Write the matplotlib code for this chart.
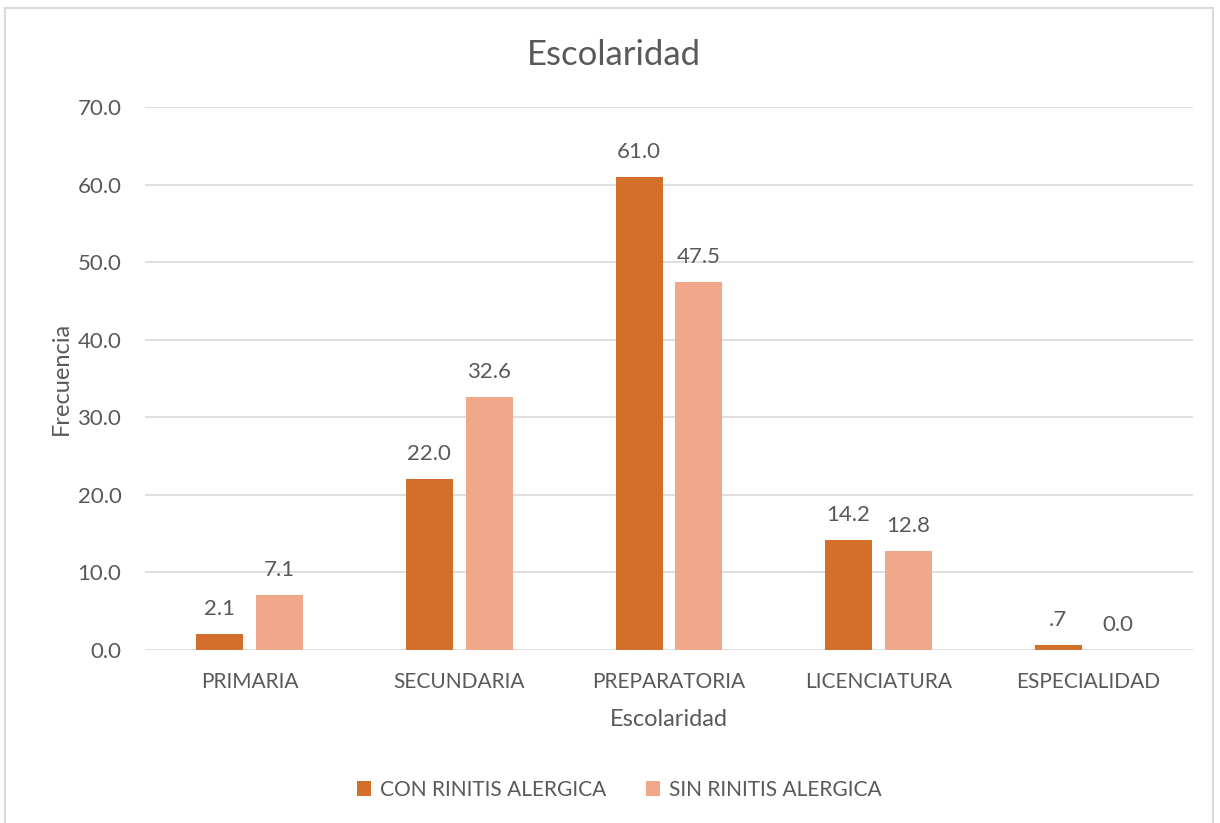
import matplotlib
matplotlib.use("Agg")
import matplotlib.pyplot as plt
from matplotlib.patches import Rectangle
import numpy as np

categories = ["PRIMARIA", "SECUNDARIA", "PREPARATORIA", "LICENCIATURA", "ESPECIALIDAD"]
con_rinitis = [2.1, 22.0, 61.0, 14.2, 0.7]
sin_rinitis = [7.1, 32.6, 47.5, 12.8, 0.0]
con_labels = ["2.1", "22.0", "61.0", "14.2", ".7"]
sin_labels = ["7.1", "32.6", "47.5", "12.8", "0.0"]
series_names = ["CON RINITIS ALERGICA", "SIN RINITIS ALERGICA"]
yticks = [0, 10, 20, 30, 40, 50, 60, 70]

C_CON = "#D36F2A"
C_SIN = "#F1A88A"
TXT = "#595959"
GRID = "#D9D9D9"

plt.rcParams["font.family"] = ["Lato", "DejaVu Sans"]

fig = plt.figure(figsize=(12.2, 8.23), dpi=100)
ax = fig.add_axes([145 / 1220, 1 - 650 / 823, 1048 / 1220, 543 / 823])

# outer chart frame
fig.patches.append(Rectangle((5 / 1220, -0.05), 1208 / 1220, 1 - 8 / 823 + 0.05,
                             transform=fig.transFigure, fill=False,
                             edgecolor="#D9D9D9", linewidth=1.5))

x = np.arange(len(categories))
w = 0.224
off = 0.143
b1 = ax.bar(x - off, con_rinitis, w, color=C_CON, zorder=3, label=series_names[0])
b2 = ax.bar(x + off, sin_rinitis, w, color=C_SIN, zorder=3, label=series_names[1])

for rects, labels in ((b1, con_labels), (b2, sin_labels)):
    for r, lab in zip(rects, labels):
        ax.annotate(lab, (r.get_x() + r.get_width() / 2, r.get_height()),
                    xytext=(0, 18), textcoords="offset points",
                    ha="center", va="center", fontsize=16, color=TXT)

ax.set_xlim(-0.5, len(categories) - 0.5)
ax.set_ylim(0, 70)
ax.set_yticks(yticks)
ax.set_yticklabels([f"{v:.1f}" for v in yticks])
ax.set_xticks(x)
ax.set_xticklabels(categories)
ax.tick_params(axis="both", length=0, colors=TXT)
ax.tick_params(axis="y", pad=17, labelsize=16)
ax.tick_params(axis="x", pad=16, labelsize=15)
ax.yaxis.grid(True, color=GRID, linewidth=1.2, zorder=0)
for s in ax.spines.values():
    s.set_visible(False)

fig.text(614 / 1220, 1 - 55 / 823, "Escolaridad", fontsize=25, color=TXT,
         ha="center", va="center")
ax.set_xlabel("Escolaridad", fontsize=17, color=TXT, labelpad=12)
ax.set_ylabel("Frecuencia", fontsize=17, color=TXT, labelpad=4)

fig.legend(handles=[b1, b2], labels=series_names, loc="center",
           bbox_to_anchor=(619 / 1220, 1 - 790 / 823), ncol=2, frameon=False,
           fontsize=15, labelcolor=TXT, handlelength=0.7, handleheight=0.7,
           columnspacing=1.9, handletextpad=0.4)

fig.savefig("out.png", dpi=100)
